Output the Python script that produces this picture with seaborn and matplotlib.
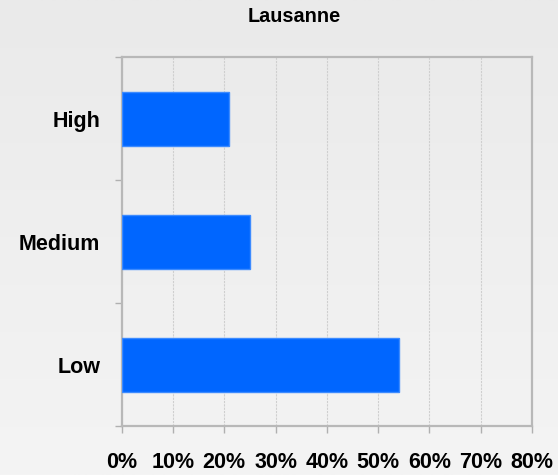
import numpy as np
import pandas as pd
import matplotlib
matplotlib.use("Agg")
import matplotlib.pyplot as plt
import seaborn as sns
from matplotlib.ticker import FixedLocator, PercentFormatter
from matplotlib.colors import LinearSegmentedColormap

categories = ["High", "Medium", "Low"]
values = [21, 25, 54]
x_ticks = [0, 10, 20, 30, 40, 50, 60, 70, 80]
title = "Lausanne"

sns.set_style("white")
plt.rcParams['font.family'] = ['Liberation Sans', 'DejaVu Sans']
plt.rcParams['text.color'] = 'black'
plt.rcParams['xtick.color'] = 'black'
plt.rcParams['ytick.color'] = 'black'

fig = plt.figure(figsize=(5.58, 4.75), dpi=100)

# gradient background
bg = fig.add_axes([0, 0, 1, 1], zorder=-10)
grad = np.linspace(0, 1, 256).reshape(-1, 1)
cmap = LinearSegmentedColormap.from_list("bg", ["#eaeaea", "#f4f4f4"])
bg.imshow(grad, aspect="auto", cmap=cmap, extent=[0, 1, 0, 1], origin="upper")
bg.axis("off")

ax = fig.add_axes([121.7/558, 1-426/475, (532-121.7)/558, (426-57.3)/475])
ax.set_facecolor("none")

df = pd.DataFrame({"cat": categories, "val": values})
sns.barplot(data=df, x="val", y="cat", order=categories, color="#0066ff",
            width=0.44, saturation=1, edgecolor="#3d8bff", linewidth=1, ax=ax, zorder=3)

ax.set_xlim(0, 80)
ax.set_ylim(2.5, -0.5)
ax.xaxis.set_major_locator(FixedLocator(x_ticks))
ax.xaxis.set_major_formatter(PercentFormatter(decimals=0))
ax.grid(axis="x", color="#cfcfcf", linestyle=(0, (2, 1)), linewidth=0.8, zorder=0)
ax.set_axisbelow(True)

ax.yaxis.set_minor_locator(FixedLocator([-0.5, 0.5, 1.5, 2.5]))
ax.tick_params(axis="y", which="major", length=0, pad=15.5, labelsize=15.5, labelcolor="black")
ax.tick_params(axis="y", which="minor", length=5, width=1, color="#b0b0b0", left=True)
ax.tick_params(axis="x", which="major", length=5, width=1, color="#b0b0b0", bottom=True, pad=14,
               labelsize=15.5, labelcolor="black")
for lbl in ax.get_xticklabels() + ax.get_yticklabels():
    lbl.set_fontweight("bold")

for s in ax.spines.values():
    s.set_visible(True)
    s.set_color("#b8b8b8")
    s.set_linewidth(1.6)

ax.set_xlabel("")
ax.set_ylabel("")

fig.text(294/558, 1-16/475, title, ha="center", va="center", fontsize=14.3, fontweight="bold", color="black")

fig.savefig("out.png", dpi=100)
